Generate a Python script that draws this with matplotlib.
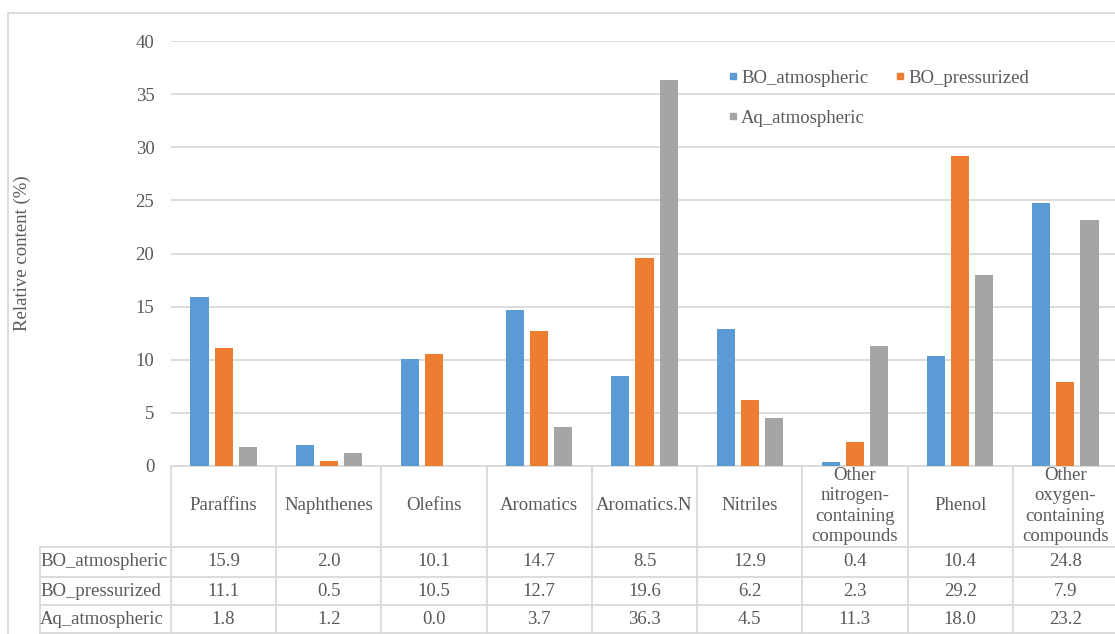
import matplotlib
matplotlib.use('Agg')

import numpy as np
import matplotlib.pyplot as plt
from matplotlib.lines import Line2D
from matplotlib.patches import Rectangle

plt.rcParams['font.family'] = ['Liberation Serif', 'DejaVu Serif']

# Data
categories = ['Paraffins', 'Naphthenes', 'Olefins', 'Aromatics', 'Aromatics.N',
              'Nitriles', 'Other\nnitrogen-\ncontaining\ncompounds', 'Phenol',
              'Other\noxygen-\ncontaining\ncompounds']
series = ['BO_atmospheric', 'BO_pressurized', 'Aq_atmospheric']
bo_atmospheric = [15.9, 2.0, 10.1, 14.7, 8.5, 12.9, 0.4, 10.4, 24.8]
bo_pressurized = [11.1, 0.5, 10.5, 12.7, 19.6, 6.2, 2.3, 29.2, 7.9]
aq_atmospheric = [1.8, 1.2, 0.0, 3.7, 36.3, 4.5, 11.3, 18.0, 23.2]
values = [bo_atmospheric, bo_pressurized, aq_atmospheric]
colors = ['#5B9BD5', '#ED7D31', '#A5A5A5']

W, H = 1115, 634
GRID = '#D9D9D9'
TXT = '#595959'
FS = 13.5

fig = plt.figure(figsize=(W / 100, H / 100), dpi=100)

# plot area in pixels (x0, top, x1, bottom)
px0, ptop, px1, pbot = 171, 41, 1118, 466
ax = fig.add_axes([px0 / W, 1 - pbot / H, (px1 - px0) / W, (pbot - ptop) / H])

# outer chart frame
fig.patches.append(Rectangle((8 / W, -0.1), 1.2, 1 - 13 / H + 0.1,
                             transform=fig.transFigure, fill=False,
                             edgecolor=GRID, lw=1.3))

n = len(categories)
x = np.arange(n)
bw = 0.172
step = 0.229
for k, (vals, c) in enumerate(zip(values, colors)):
    ax.bar(x + (k - 1) * step, vals, bw, color=c, zorder=3)

ax.set_xlim(-0.5, n - 0.5)
ax.set_ylim(0, 40)
ax.set_yticks(np.arange(0, 41, 5))
ax.yaxis.grid(True, color=GRID, lw=1.3)
ax.set_axisbelow(True)
for s in ['top', 'right', 'left']:
    ax.spines[s].set_visible(False)
ax.spines['bottom'].set_color(GRID)
ax.spines['bottom'].set_linewidth(1.3)
ax.tick_params(axis='y', length=0, pad=12, labelsize=FS, labelcolor=TXT)
ax.set_xticks([])

fig.text(22 / W, 1 - 253 / H, 'Relative content (%)', rotation=90,
         ha='center', va='center', fontsize=FS, color=TXT)

# data table under the axis
def ay(py):
    return (pbot - py) / (pbot - ptop)

def axx(px):
    return (px - px0) / (px1 - px0)

row_edges = [466, 547, 577, 605, 633]
line_kw = dict(color=GRID, lw=1.3, clip_on=False, transform=ax.transAxes)
for j in range(n + 1):
    xa = j / n
    ax.plot([xa, xa], [ay(466), ay(640)], **line_kw)
ax.plot([axx(40), axx(40)], [ay(547), ay(640)], **line_kw)
for py in row_edges[1:]:
    ax.plot([axx(40), 1], [ay(py), ay(py)], **line_kw)

for j, cat in enumerate(categories):
    ax.text((j + 0.5) / n, ay(506), cat, transform=ax.transAxes,
            ha='center', va='center', fontsize=FS, color=TXT, linespacing=1.25)

for r, (name, vals) in enumerate(zip(series, values)):
    yc = ay((row_edges[r + 1] + row_edges[r + 2]) / 2)
    ax.text(axx(40), yc, name, transform=ax.transAxes, ha='left',
            va='center', fontsize=FS, color=TXT)
    for j, v in enumerate(vals):
        ax.text((j + 0.5) / n, yc, f'{v:.1f}', transform=ax.transAxes,
                ha='center', va='center', fontsize=FS, color=TXT)

# legend, two per row
handles = [Line2D([], [], marker='s', ls='', color=c, markersize=5) for c in colors]
order = [0, 2, 1]
leg = ax.legend([handles[i] for i in order], [series[i] for i in order],
                ncol=2, frameon=False, fontsize=FS,
                labelcolor=TXT, handlelength=0.4, handletextpad=0.25,
                columnspacing=1.5, labelspacing=1.2,
                loc='upper left', bbox_to_anchor=(axx(712), ay(53)))

fig.savefig('out.png', dpi=100)
